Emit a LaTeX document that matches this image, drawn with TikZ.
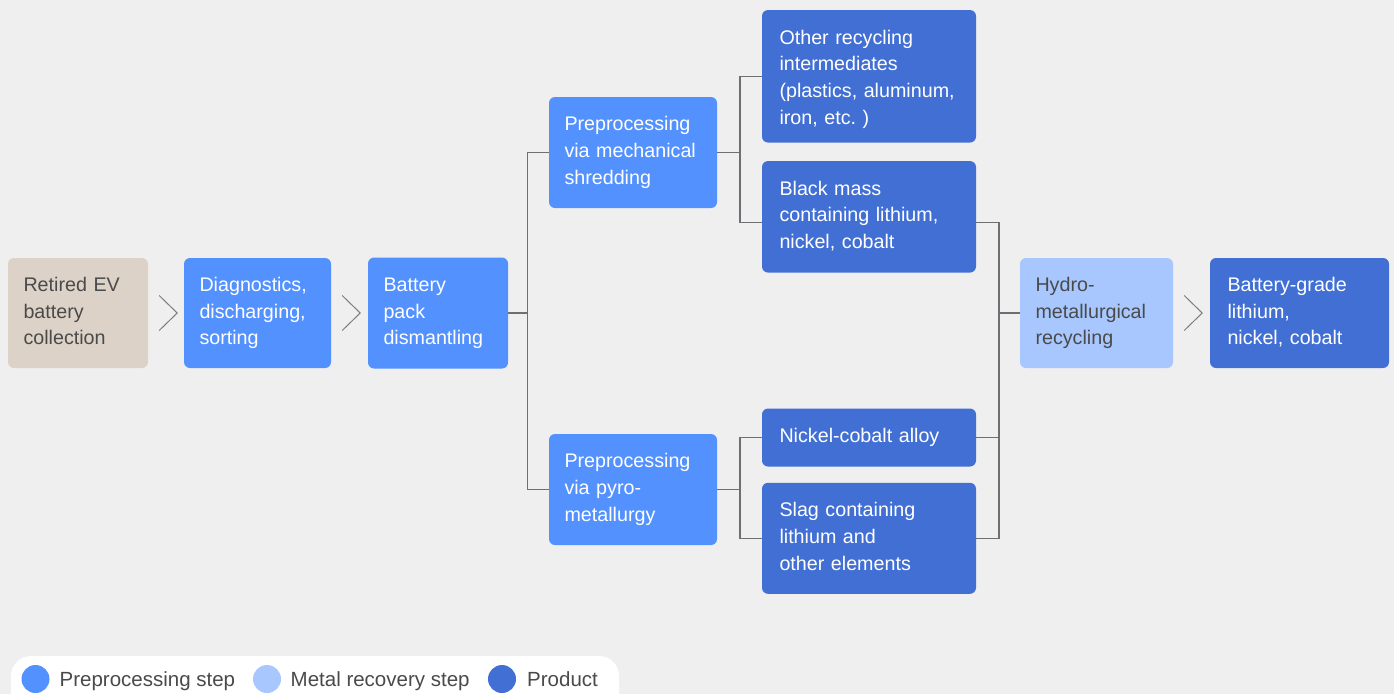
\documentclass[tikz,border=0pt]{standalone}
\usepackage{fontspec}
\setmainfont{Liberation Sans}
\usetikzlibrary{calc}
\definecolor{bgc}{HTML}{EFEFEF}
\definecolor{beigec}{HTML}{DDD2C8}
\definecolor{prepc}{HTML}{5391FF}
\definecolor{metalc}{HTML}{A8C7FF}
\definecolor{prodc}{HTML}{416FD4}
\definecolor{darktxt}{HTML}{4A4A4A}
\definecolor{linec}{HTML}{6E6F73}
\begin{document}
\begin{tikzpicture}[x=1pt,y=-1pt,
  basebox/.style={rounded corners=6pt, inner ysep=0pt, align=left,
    font=\fontsize{19.7}{26.7}\selectfont,
    execute at begin node={\vphantom{(}},
    execute at end node={\vphantom{(}}},
  beigebox/.style={basebox, fill=beigec, text=darktxt, inner xsep=15.5pt},
  prepbox/.style={basebox, fill=prepc, text=white, inner xsep=15.5pt},
  metalbox/.style={basebox, fill=metalc, text=darktxt, inner xsep=15.5pt},
  prodbox/.style={basebox, fill=prodc, text=white, inner xsep=17.5pt},
  conn/.style={draw=linec, line width=1.1pt},
  chev/.style={draw=linec!90, line width=1pt},
  legdot/.style={circle, inner sep=0pt, minimum size=28pt},
  legtxt/.style={inner sep=0pt, text=darktxt, font=\fontsize{20.5}{24}\selectfont}]
\useasboundingbox (0,0) rectangle (1394,694);
\clip (0,0) rectangle (1394,694);
\fill[bgc] (0,0) rectangle (1394,694);

% main chain
\node[beigebox, text width=109pt, minimum height=110pt] (ret) at (78,313) {Retired EV\\battery\\collection};
\node[prepbox, text width=116pt, minimum height=110pt] (diag) at (257.5,313) {Diagnostics,\\discharging,\\sorting};
\node[prepbox, text width=109pt, minimum height=111pt] (pack) at (438,313) {Battery\\pack\\dismantling};

\node[prepbox, text width=137pt, minimum height=111pt] (mech) at (633,152.5) {Preprocessing\\via mechanical\\shredding};
\node[prepbox, text width=137pt, minimum height=111pt] (pyro) at (633,489.5) {Preprocessing\\via pyro-\\metallurgy};

\node[prodbox, text width=179pt, minimum height=132.5pt,
      execute at begin node={\rule{0pt}{20pt}}] (other) at (869,76.3) {Other recycling\\intermediates\\(plastics, aluminum,\\iron, etc.\ )};
\node[prodbox, text width=179pt, minimum height=111.5pt] (black) at (869,216.8) {Black mass\\containing lithium,\\nickel, cobalt};
\node[prodbox, text width=179pt, minimum height=58pt] (nico) at (869,437.5) {Nickel-cobalt alloy};
\node[prodbox, text width=179pt, minimum height=111pt] (slag) at (869,538.3) {Slag containing\\lithium and\\other elements};

\node[metalbox, text width=122pt, minimum height=110pt] (hydro) at (1096.5,313) {Hydro-\\metallurgical\\recycling};
\node[prodbox, text width=144pt, minimum height=110pt] (grade) at (1299.5,313) {Battery-grade\\lithium,\\nickel, cobalt};

% chevrons
\draw[chev] ([xshift=11pt,yshift=17.5pt]ret.east) -- ([xshift=29pt]ret.east) -- ([xshift=11pt,yshift=-17.5pt]ret.east);
\draw[chev] ([xshift=11pt,yshift=17.5pt]diag.east) -- ([xshift=29pt]diag.east) -- ([xshift=11pt,yshift=-17.5pt]diag.east);
\draw[chev] ([xshift=11pt,yshift=17.5pt]hydro.east) -- ([xshift=29pt]hydro.east) -- ([xshift=11pt,yshift=-17.5pt]hydro.east);

% connectors
\coordinate (j1) at (527.5,313);
\coordinate (j2) at (740,152.5);
\coordinate (j3) at (740,489.5);
\coordinate (j4) at (999,313);
\coordinate (bin) at ([yshift=-5.5pt]black.west);
\coordinate (bout) at ([yshift=-5.5pt]black.east);

\draw[conn] (pack.east) -- (j1);
\draw[conn] (j1) |- (mech.west);
\draw[conn] (j1) |- (pyro.west);

\draw[conn] (mech.east) -- (j2);
\draw[conn] (j2) |- (other.west);
\draw[conn] (j2) |- (bin);

\draw[conn] (pyro.east) -- (j3);
\draw[conn] (j3) |- (nico.west);
\draw[conn] (j3) |- (slag.west);

\draw[conn] (bout) -| (j4);
\draw[conn] (slag.east) -| (j4);
\draw[conn] (nico.east) -- (nico.east -| j4);
\draw[conn] (j4) -- (hydro.west);

% legend
\fill[white, rounded corners=20pt] (11,656) rectangle (619,730);
\node[legdot, fill=prepc] (d1) at (35.5,679) {};
\node[legtxt, anchor=base west] (t1) at (59.5,686) {Preprocessing step};
\node[legdot, fill=metalc] (d2) at (267,679) {};
\node[legtxt, anchor=base west] (t2) at (290.5,686) {Metal recovery step};
\node[legdot, fill=prodc] (d3) at (502,679) {};
\node[legtxt, anchor=base west] (t3) at (527,686) {Product};
\end{tikzpicture}
\end{document}
